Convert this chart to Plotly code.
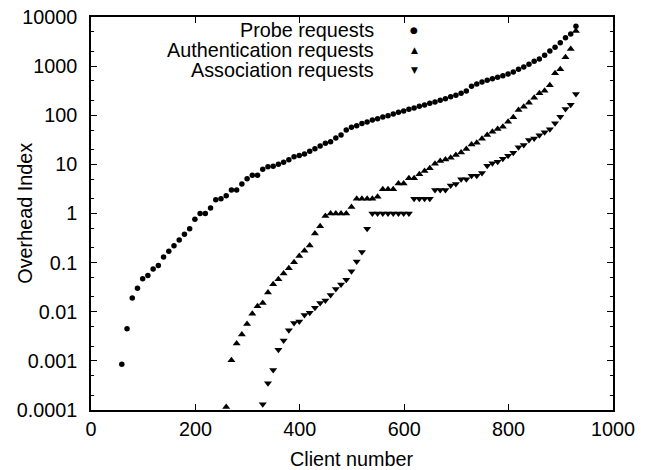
import plotly.graph_objects as go

# ---- data ----
probe_clients = [59, 69, 79, 89, 99, 109, 119, 129, 139, 149, 159, 169, 179, 189, 199, 209, 219, 229, 239, 249,
                 259, 269, 279, 289, 299, 309, 319, 329, 339, 349, 359, 369, 379, 389, 399, 409, 419, 429, 439, 449,
                 459, 469, 479, 489, 499, 509, 519, 529, 539, 549, 559, 569, 579, 589, 599, 609, 619, 629, 639, 649,
                 659, 669, 679, 689, 699, 709, 719, 729, 739, 749, 759, 769, 779, 789, 799, 809, 819, 829, 839, 849,
                 859, 869, 879, 889, 899, 909, 919, 929]
probe_values = [0.00085, 0.0045, 0.019, 0.030, 0.047, 0.055, 0.074, 0.087, 0.13, 0.17,
                0.22, 0.29, 0.38, 0.49, 0.76, 1.0, 1.0, 1.3, 1.9, 2.0,
                2.3, 3.0, 3.0, 4.0, 5.1, 6.0, 6.0, 8.0, 8.9, 9.2,
                10.1, 11.1, 12.4, 14.3, 15.2, 16.2, 18.4, 20.8, 23.6, 26.8,
                28.8, 34.3, 39.5, 50, 57, 61, 68, 73, 80, 85,
                92, 98, 106, 115, 122, 132, 140, 152, 161, 175,
                186, 201, 217, 238, 254, 279, 311, 390, 432, 474,
                514, 553, 591, 637, 690, 759, 861, 959, 1088, 1253,
                1396, 1660, 2030, 2415, 2997, 3787, 4505, 6467]

auth_clients = [259, 269, 279, 289, 299, 309, 319, 329, 339, 349, 359, 369, 379, 389, 399, 409, 419, 429, 439, 449,
                459, 469, 479, 489, 499, 509, 519, 529, 539, 549, 559, 569, 579, 589, 599, 609, 619, 629, 639, 649,
                659, 669, 679, 689, 699, 709, 719, 729, 739, 749, 759, 769, 779, 789, 799, 809, 819, 829, 839, 849,
                859, 869, 879, 889, 899, 909, 919, 929]
auth_values = [0.000115, 0.00103, 0.00226, 0.00345, 0.0056, 0.0091, 0.013, 0.015, 0.0247, 0.0365,
               0.046, 0.060, 0.077, 0.102, 0.136, 0.174, 0.224, 0.39, 0.55, 0.89,
               1.0, 1.0, 1.0, 1.0, 1.35,
               2.0, 2.0, 2.0, 2.0, 2.2, 3.1, 3.1, 3.1, 4.1, 4.1,
               5.2, 5.2, 6.3, 7.3, 8.3, 10.3, 11.7, 12.6, 13.6, 15.5,
               17.5, 20.5,
               25.5, 27.5, 33.2, 39.5, 46.1, 52.4, 58.3, 73.8, 90.6, 128,
               149, 180, 227, 279, 316, 406, 713, 861, 1511, 2230, 5188]

assoc_clients = [329, 339, 349, 359, 369, 379, 389, 399, 409, 419, 429, 439, 449, 459, 469, 479, 489, 499,
                 509, 519, 529, 539, 549, 559, 569, 579, 589, 599, 609, 619, 629, 639, 649, 659, 669, 679,
                 689, 699, 709, 719, 729, 739, 749, 759, 769, 779, 789, 799, 809, 819, 829, 839, 849, 859,
                 869, 879, 889, 899, 909, 919, 929]
assoc_values = [0.000131, 0.00035, 0.00065, 0.00168, 0.0026, 0.0042, 0.0059, 0.0063, 0.0086, 0.0095,
                0.012, 0.015, 0.017, 0.0218, 0.029, 0.036, 0.045, 0.067,
                0.106, 0.164, 0.49, 1, 1, 1, 1, 1, 1, 1, 1, 2, 2, 2, 2, 3, 3, 3, 3.7, 4.0, 5, 5,
                5.9, 5.9, 6.7, 9.4, 10.5, 11.3, 13.0, 15.0, 17.2, 22.2, 24.7, 31.3, 33.8, 39,
                44.9, 51.6, 68.4, 93, 134, 164, 270]

series_names = ["Probe requests", "Authentication requests", "Association requests"]
legend_glyphs = ["\u25CF", "\u25B2", "\u25BC"]

y_tickvals = [1e-4, 1e-3, 1e-2, 1e-1, 1, 10, 100, 1000, 10000]
y_ticktext = ["0.0001", "0.001", "0.01", "0.1", "1", "10", "100", "1000", "10000"]
y_minor = [m * 10 ** e for e in range(-4, 4) for m in (2, 5)]
x_tickvals = [0, 200, 400, 600, 800, 1000]

FONT = "Liberation Sans, Arial, Helvetica, sans-serif"
FS = 19.8

fig = go.Figure()
fig.add_trace(go.Scatter(x=probe_clients, y=probe_values, mode="markers", name=series_names[0],
                         marker=dict(symbol="circle", size=5.5, color="black")))
fig.add_trace(go.Scatter(x=auth_clients, y=auth_values, mode="markers", name=series_names[1],
                         marker=dict(symbol="triangle-up", size=7, color="black")))
fig.add_trace(go.Scatter(x=assoc_clients, y=assoc_values, mode="markers", name=series_names[2],
                         marker=dict(symbol="triangle-down", size=7, color="black")))

# legend drawn as text (label right-aligned, key glyph at the right)
leg_y = [0.966, 0.916, 0.865]
for name, glyph, yy in zip(series_names, legend_glyphs, leg_y):
    fig.add_annotation(text=name, xref="paper", yref="paper", x=0.5465, y=yy,
                       xanchor="right", yanchor="middle", showarrow=False,
                       font=dict(family=FONT, size=FS, color="black"))
    fig.add_annotation(text=glyph, xref="paper", yref="paper", x=0.619, y=yy,
                       xanchor="center", yanchor="middle", showarrow=False,
                       font=dict(family="DejaVu Sans", size=9, color="black"))

fig.add_annotation(text="Overhead Index", xref="paper", yref="paper", x=-0.128, y=0.5,
                   textangle=-90, xanchor="center", yanchor="middle", showarrow=False,
                   font=dict(family=FONT, size=FS, color="black"))
fig.add_annotation(text="Client number", xref="paper", yref="paper", x=0.5, y=-0.1247,
                   xanchor="center", yanchor="middle", showarrow=False,
                   font=dict(family=FONT, size=FS, color="black"))

fig.update_xaxes(range=[0, 1000], tickvals=x_tickvals, ticks="inside", ticklen=6,
                 tickcolor="black", tickwidth=1, showline=True, linecolor="black", linewidth=1.5,
                 mirror="ticks", showgrid=False, zeroline=False, ticklabeloverflow="allow",
                 tickfont=dict(family=FONT, size=FS, color="black"), ticklabelstandoff=0)
fig.update_yaxes(type="log", range=[-4, 4], tickvals=y_tickvals, ticktext=y_ticktext,
                 ticks="inside", ticklen=6, tickcolor="black", tickwidth=1,
                 minor=dict(tickvals=y_minor, ticks="inside", ticklen=3, tickcolor="black", showgrid=False),
                 showline=True, linecolor="black", linewidth=1.5, mirror="ticks",
                 showgrid=False, zeroline=False, ticklabelstandoff=8, ticklabeloverflow="allow",
                 tickfont=dict(family=FONT, size=FS, color="black"))

fig.update_layout(width=651, height=470, showlegend=False,
                  margin=dict(l=91, r=38, t=17, b=60, autoexpand=False),
                  paper_bgcolor="white", plot_bgcolor="white",
                  font=dict(family=FONT, size=FS, color="black"))

# remove the default 8 px page margin so the figure sits at the window's top-left corner
fig.write_html("out.html", config={"displayModeBar": False},
               post_script="document.body.style.margin='0';")
